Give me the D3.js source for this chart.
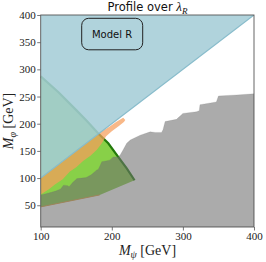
<!DOCTYPE html>
<html>
<head>
<meta charset="utf-8">
<script src="https://cdn.jsdelivr.net/npm/d3@7"></script>
<style>
  body { margin: 0; background: #fff; }
</style>
</head>
<body>
<div id="chart"></div>
<script>
var xTicks = [100, 200, 300, 400];
var yTicks = [50, 100, 150, 200, 250, 300, 350, 400];

// boundaries, as [M_psi, M_phi]
var blueRegion = [[100, 100], [400, 400], [100, 400]];
var greenArc = [[100, 287], [125, 258], [150, 225], [165, 205], [181, 182], [195, 164], [209, 139], [221, 118], [232, 96]];
var greenBottom = [[100, 47], [183, 69], [232, 96]];
var orangeUpper = [[100, 100], [186, 186], [196, 194], [206, 203], [216, 211], [219, 207]];
var orangeLower = [[100, 70], [112, 80], [120, 88], [131, 98], [141, 112], [150, 120], [160, 132], [170, 141], [179, 152], [186, 164], [192, 177], [200, 186], [210, 196], [217, 203]];
var grayEdge = [[100, 69], [110, 72], [121, 76], [128, 80], [132, 87], [138, 86], [140, 84], [145, 92], [151, 99], [164, 101], [171, 106], [179, 115], [181, 116], [186, 130], [197, 133], [202, 139], [209, 139], [212, 143], [216, 152], [221, 164], [226, 170], [240, 179], [254, 185], [261, 184], [270, 184], [272, 189], [275, 204], [291, 208], [300, 219], [319, 222], [323, 224], [324, 235], [347, 240], [350, 251], [376, 253], [400, 255]];
var grayBottom = [[400, 10], [100, 10]];

var width = 266, height = 262;

var svg = d3.select("#chart").append("svg")
    .attr("width", width)
    .attr("height", height);

var x = d3.scaleLinear().domain([100, 400]).range([40.7, 254]);
var y = d3.scaleLinear().domain([10, 400]).range([227, 15]);

var line = d3.line()
    .x(function(d) { return x(d[0]); })
    .y(function(d) { return y(d[1]); });

svg.append("clipPath").attr("id", "plotclip")
  .append("rect")
    .attr("x", x(100)).attr("y", y(400))
    .attr("width", x(400) - x(100))
    .attr("height", y(10) - y(400));

var g = svg.append("g").attr("clip-path", "url(#plotclip)");

// green region
g.append("path")
    .attr("d", line(greenBottom.concat(greenArc.slice().reverse())) + "Z")
    .style("fill", "#88d048")
    .style("stroke", "none");

g.append("path")
    .attr("d", line(greenArc))
    .style("fill", "none")
    .style("stroke", "#237a0c")
    .style("stroke-width", 2.2);

g.append("path")
    .attr("d", line(greenBottom.slice(0, 2)))
    .style("fill", "none")
    .style("stroke", "#e0a040")
    .style("stroke-width", 1);

// orange band
g.append("path")
    .attr("d", line(orangeUpper.concat(orangeLower.slice().reverse())) + "Z")
    .style("fill", "#f59e5c")
    .style("fill-opacity", 0.73)
    .style("stroke", "none");

// blue region above the diagonal
g.append("path")
    .attr("d", line(blueRegion) + "Z")
    .style("fill", "#a4cdd7")
    .style("fill-opacity", 0.87)
    .style("stroke", "none");

g.append("path")
    .attr("d", line(blueRegion.slice(0, 2)))
    .style("fill", "none")
    .style("stroke", "#88bccb")
    .style("stroke-width", 1.2);

// excluded gray region
g.append("path")
    .attr("d", line(grayEdge.concat(grayBottom)) + "Z")
    .style("fill", "#6e6e6e")
    .style("fill-opacity", 0.58)
    .style("stroke", "#6e6e6e")
    .style("stroke-opacity", 0.2)
    .style("stroke-width", 0.8);

// frame
svg.append("rect")
    .attr("x", x(100)).attr("y", y(400))
    .attr("width", x(400) - x(100))
    .attr("height", y(10) - y(400))
    .style("fill", "none")
    .style("stroke", "#555")
    .style("stroke-width", 0.9);

var tickFont = "'Liberation Serif', serif";

var xAxis = svg.append("g").attr("transform", "translate(0," + y(10) + ")")
    .call(d3.axisBottom(x).tickValues(xTicks).tickSize(3.5).tickPadding(1.5).tickFormat(d3.format("d")));
var yAxis = svg.append("g").attr("transform", "translate(" + x(100) + ",0)")
    .call(d3.axisLeft(y).tickValues(yTicks).tickSize(3.5).tickPadding(1.5).tickFormat(d3.format("d")));

[xAxis, yAxis].forEach(function(a) {
  a.select(".domain").remove();
  a.selectAll(".tick line").style("stroke", "#555").style("stroke-width", 0.8);
  a.selectAll(".tick text")
      .style("font-family", tickFont)
      .style("font-size", "11px")
      .style("fill", "#222");
});

// model label box
svg.append("rect")
    .attr("x", 81.7).attr("y", 18.3)
    .attr("width", 61).attr("height", 31.5)
    .attr("rx", 7).attr("ry", 7)
    .style("fill", "none")
    .style("stroke", "#222")
    .style("stroke-width", 1);

svg.append("text")
    .attr("x", 112).attr("y", 34.5)
    .attr("text-anchor", "middle")
    .attr("dominant-baseline", "central")
    .style("font-family", "'DejaVu Sans', sans-serif")
    .style("font-size", "10px")
    .style("fill", "#111")
    .text("Model R");

// title
var title = svg.append("text")
    .attr("x", 147.5).attr("y", 11)
    .attr("text-anchor", "middle")
    .style("font-family", "'DejaVu Sans', sans-serif")
    .style("font-size", "11.5px")
    .style("fill", "#111");
title.append("tspan").text("Profile over ");
title.append("tspan").style("font-family", tickFont).style("font-style", "italic").style("font-size", "13px").text("λ");
title.append("tspan").attr("dy", 2.5).style("font-family", tickFont).style("font-style", "italic").style("font-size", "9px").text("R");

// axis labels
var xlab = svg.append("text")
    .attr("x", 147.5).attr("y", 255)
    .attr("text-anchor", "middle")
    .style("font-family", tickFont)
    .style("font-size", "14px")
    .style("fill", "#222");
xlab.append("tspan").style("font-style", "italic").text("M");
xlab.append("tspan").attr("dy", 3).style("font-style", "italic").style("font-size", "10px").text("ψ");
xlab.append("tspan").attr("dy", -3).text(" [GeV]");

var ylab = svg.append("text")
    .attr("transform", "translate(13," + ((y(10) + y(400)) / 2) + ") rotate(-90)")
    .attr("text-anchor", "middle")
    .style("font-family", tickFont)
    .style("font-size", "14px")
    .style("fill", "#222");
ylab.append("tspan").style("font-style", "italic").text("M");
ylab.append("tspan").attr("dy", 3).style("font-style", "italic").style("font-size", "10px").text("φ");
ylab.append("tspan").attr("dy", -3).text(" [GeV]");
</script>
</body>
</html>
